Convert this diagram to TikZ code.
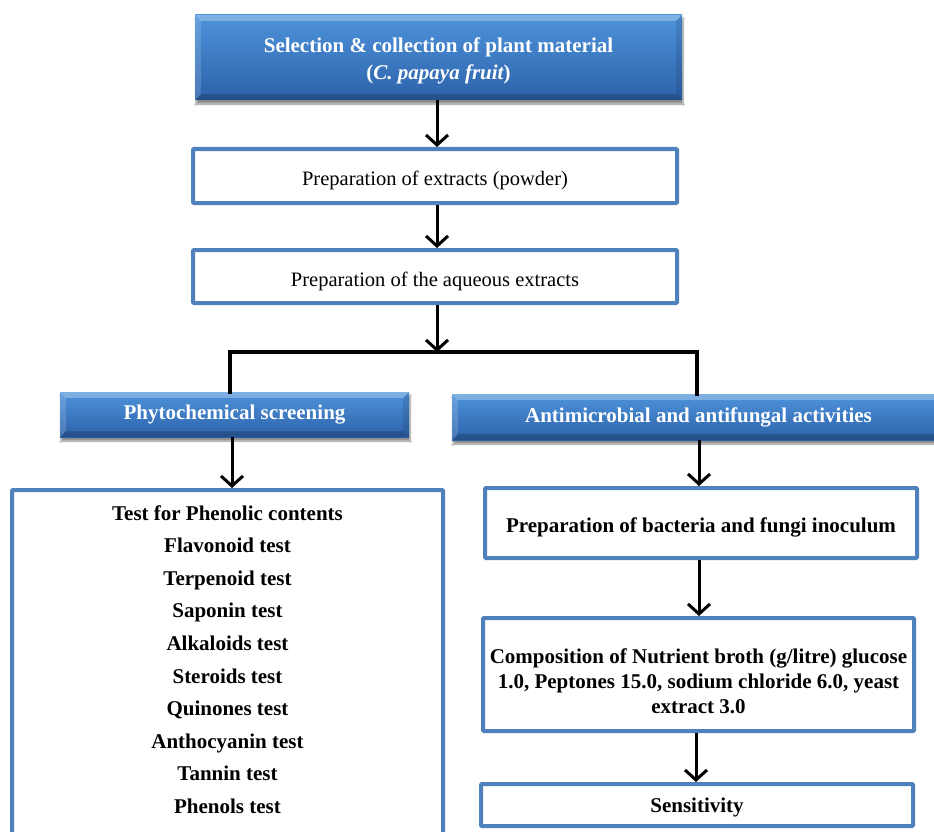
\documentclass[tikz,border=0pt]{standalone}
\usepackage{fontspec}
\setmainfont{Liberation Serif}
\usetikzlibrary{arrows.meta,shadows.blur}
\definecolor{bordblue}{HTML}{4F81BD}
\definecolor{btop}{HTML}{4E93DB}
\definecolor{bbot}{HTML}{2C62AA}
\newcommand\bigbold{\fontsize{21}{25}\selectfont\bfseries}
\newcommand\bigreg{\fontsize{20.5}{25}\selectfont}
\newcommand\bevelbox[1]{%
  \fill[white,opacity=0.28] (#1.north west) -- (#1.north east) -- ([shift={(-6pt,-6pt)}]#1.north east) -- ([shift={(6pt,-6pt)}]#1.north west) -- cycle;
  \fill[white,opacity=0.15] (#1.north west) -- ([shift={(6pt,-6pt)}]#1.north west) -- ([shift={(6pt,6pt)}]#1.south west) -- (#1.south west) -- cycle;
  \fill[black,opacity=0.18] (#1.south west) -- (#1.south east) -- ([shift={(-6pt,6pt)}]#1.south east) -- ([shift={(6pt,6pt)}]#1.south west) -- cycle;
  \fill[black,opacity=0.1] (#1.north east) -- ([shift={(-6pt,-6pt)}]#1.north east) -- ([shift={(-6pt,6pt)}]#1.south east) -- (#1.south east) -- cycle;
}
\begin{document}
\begin{tikzpicture}[x=1pt,y=-1pt,
  bluebox/.style={rectangle, inner sep=0pt, top color=btop, bottom color=bbot,
    text=white, font=\bigbold, align=center,
    blur shadow={shadow xshift=1pt, shadow yshift=-4pt, shadow blur steps=6, shadow opacity=45}},
  whitebox/.style={rectangle, inner sep=0pt, draw=bordblue, line width=4pt, fill=white,
    align=center, rounded corners=1pt},
  lowtext/.style={text height=24pt, text depth=5pt},
  arr/.style={line width=3pt, -{Straight Barb[length=10pt,width=22pt,line width=3pt]}},
  brk/.style={line width=4pt, line cap=rect},
]
\useasboundingbox (0,0) rectangle (934,832);
\fill[white] (0,0) rectangle (934,832);

% blue header boxes
\node[bluebox, minimum width=487pt, minimum height=85pt] (top) at (438.5,57.5)
  {\rule{0pt}{21pt}Selection \& collection of plant material\\[2pt] ({\itshape C. papaya fruit})};
\node[bluebox, minimum width=349pt, minimum height=45pt] (phyto) at (234.5,414.5)
  {Phytochemical screening};
\node[bluebox, minimum width=493pt, minimum height=46pt] (anti) at (698.5,417)
  {Antimicrobial and antifungal activities};
\bevelbox{top}
\bevelbox{phyto}
\bevelbox{anti}

% white boxes
\node[whitebox, lowtext, font=\bigreg, minimum width=484pt, minimum height=54pt] (prep1) at (435,176)
  {Preparation of extracts (powder)};
\node[whitebox, lowtext, font=\bigreg, minimum width=484pt, minimum height=53pt] (prep2) at (435,276.5)
  {Preparation of the aqueous extracts};
\node[whitebox, minimum width=431pt, minimum height=358pt] (list) at (227.5,669) {};
\node[align=center, font={\fontsize{21}{32.6}\selectfont\bfseries}] (tests) at (227.5,659.5)
  {Test for Phenolic contents\\ Flavonoid test\\ Terpenoid test\\ Saponin test\\
   Alkaloids test\\ Steroids test\\ Quinones test\\ Anthocyanin test\\ Tannin test\\ Phenols test};
\node[whitebox, lowtext, font=\bigbold, minimum width=432pt, minimum height=70pt] (inoc) at (701,523)
  {Preparation of bacteria and fungi inoculum};
\node[whitebox, minimum width=431pt, minimum height=113pt] (comp) at (698.5,674.5) {};
\node[align=center, font=\bigbold] (comptext) at (698.5,681)
  {Composition of Nutrient broth (g/litre) glucose\\ 1.0, Peptones 15.0, sodium chloride 6.0, yeast\\ extract 3.0};
\node[whitebox, text height=19pt, text depth=5pt, font=\bigbold, minimum width=432pt, minimum height=42pt] (sens) at (697,805)
  {Sensitivity};

% connectors
\coordinate (bm) at (437,352);
\coordinate (bl) at (230,352);
\coordinate (br) at (697,352);
\draw[arr] (top.south -| 437,0) -- (prep1.north -| 437,0);
\draw[arr] (prep1.south -| 437,0) -- (prep2.north -| 437,0);
\draw[arr] (prep2.south -| 437,0) -- (bm);
\draw[brk] (phyto.north -| bl) -- (bl) -- (br) -- (anti.north -| br);
\draw[arr] (phyto.south -| 232,0) -- (list.north -| 232,0);
\draw[arr] (anti.south -| 699,0) -- (inoc.north -| 699,0);
\draw[arr] (inoc.south -| 699,0) -- (comp.north -| 699,0);
\draw[arr] (comp.south -| 696,0) -- (sens.north -| 696,0);
\end{tikzpicture}
\end{document}
